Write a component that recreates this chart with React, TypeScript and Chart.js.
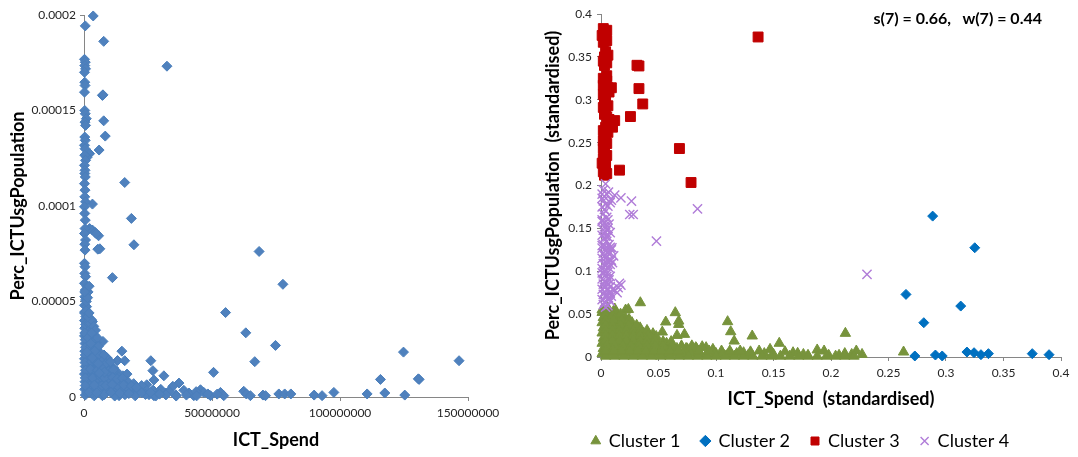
import React, { useEffect, useRef } from 'react';
import { Chart, registerables } from 'chart.js';

Chart.register(...registerables);

const FONT = 'Lato, "Open Sans", sans-serif';

// ---------- Left chart: raw values ----------
// [ICT_Spend in millions, Perc_ICTUsgPopulation in millionths]
const rawPoints: [number, number][] = [
  [3.6, 199.5], [0.5, 194.3], [7.7, 186.2], [32.4, 173.2], [7.2, 157.9], [7.4, 158.2],
  [7.7, 144.6], [8.3, 136.6], [5.9, 129.3], [2.2, 127.4], [1.2, 125.5], [15.9, 112.3],
  [3.3, 101.0], [18.5, 93.5], [19.5, 79.7], [5.7, 84.4], [6.2, 77.6], [5.4, 77.4],
  [3.3, 87.4], [2.2, 88.2], [4.3, 86.2], [4.8, 85.5], [11.1, 62.5], [68.4, 76.2],
  [77.7, 59.0], [55.3, 44.2], [63.2, 33.6], [74.8, 27.0], [66.7, 18.5], [124.8, 23.5],
  [146.5, 19.0], [115.8, 9.2], [130.9, 9.2], [130.6, 9.5], [50.6, 12.9], [31.2, 11.1],
  [26.1, 19.0], [26.9, 13.8], [27.3, 8.9], [14.8, 24.0], [13.1, 19.1], [15.9, 19.0],
  [15.2, 11.1], [16.8, 12.0], [7.4, 29.1], [3.3, 39.5], [3.0, 35.2], [4.9, 25.6],
  [5.6, 19.5], [37.1, 7.3], [24.5, 6.4],
  [45.5, 3.8], [46.8, 2.4], [49.4, 0.7], [53.3, 2.4], [54.6, 0.7], [62.4, 3.0],
  [63.4, 1.6], [65.0, 0.7], [69.9, 1.0], [70.9, 0.7], [76.1, 1.6], [78.4, 1.6],
  [80.8, 1.6], [89.9, 1.0], [93.0, 0.7], [97.6, 2.4], [110.6, 1.6], [117.5, 2.1],
  [125.3, 1.0], [34.7, 5.6], [42.9, 0.7], [41.0, 2.1], [31.9, 2.1], [29.3, 3.0],
  [21.5, 3.8], [17.6, 3.0], [12.4, 2.1], [25.4, 1.2], [35.8, 1.2], [33.2, 3.0],
  [19.5, 2.1], [13.7, 0.7], [7.2, 0.7], [27.3, 0.7], [39.0, 3.5], [48.4, 1.6],
  [52.0, 1.5], [43.8, 2.8],
  [0.2, 176.8], [0.5, 175.3], [0.3, 173.5], [0.6, 171.8], [0.2, 170.0], [0.3, 164.8],
  [0.4, 163.1], [0.2, 159.6], [0.3, 150.0], [0.5, 148.3], [0.9, 145.7], [0.4, 143.9],
  [0.6, 142.2], [0.3, 136.1], [0.5, 134.4], [0.2, 131.8], [0.4, 130.0], [0.3, 126.6],
  [0.6, 123.9], [0.2, 121.3], [0.4, 118.7], [0.3, 117.0], [0.5, 115.2], [0.2, 111.7],
  [0.4, 108.3], [0.3, 104.8], [0.6, 102.2], [0.2, 99.6], [0.3, 96.1], [0.5, 92.6],
  [0.4, 88.2], [0.2, 85.6], [0.6, 82.2], [0.3, 80.0], [0.4, 76.9], [0.2, 70.0],
  [0.4, 68.2], [0.3, 64.7], [0.6, 63.0], [0.2, 59.5], [1.2, 57.8], [0.5, 56.0],
  [0.8, 54.3], [0.3, 52.5], [0.6, 50.8], [0.2, 48.0], [1.0, 47.3], [0.4, 44.7],
  [0.7, 42.1], [1.6, 55.0], [2.0, 58.0], [0.9, 50.0], [1.4, 52.0], [0.3, 55.0], [0.2, 44.0],
  [0.2, 40], [1.1, 39], [2.0, 41], [0.3, 36], [1.3, 37], [2.4, 36],
  [0.2, 32], [1.4, 33], [2.7, 31.5], [4.0, 32.5], [0.4, 28], [1.8, 29], [3.2, 27.5], [4.6, 28.5],
  [0.3, 24], [1.9, 25], [3.5, 23.5], [5.0, 24.5], [6.4, 23],
  [0.2, 20], [2.1, 21], [3.9, 19.5], [5.7, 20.5], [7.4, 19.5], [9.0, 20.5],
  [0.5, 16], [2.4, 17], [4.3, 15.5], [6.2, 16.5], [8.1, 15.5], [10.0, 16.5], [11.6, 15.2],
  [0.2, 12], [2.3, 13], [4.5, 11.5], [6.7, 12.5], [8.9, 11.5], [11.0, 12.8], [12.9, 13.2], [13.5, 10.5],
  [0.4, 8], [2.8, 8.5], [5.2, 7.5], [7.6, 8.5], [10.0, 7.5], [12.4, 8.5], [14.8, 7.5], [17.2, 8], [19.4, 7],
  [0.3, 4], [3.0, 4.5], [6.0, 3.5], [9.0, 4.5], [12.0, 3.5], [15.0, 4.5], [18.0, 4], [21.0, 3.5],
  [24.0, 4.2], [27.0, 3.6], [30.0, 4.0],
  [0.5, 1], [4.0, 0.6], [8.0, 1.3], [12.0, 0.5], [16.0, 1.2], [20.0, 0.6], [24.0, 1.3], [28.0, 0.5],
  [32.0, 1.1], [36.0, 0.5], [40.0, 1.0], [44.0, 0.6],
  [1.0, 2.5], [2.0, 6], [1.5, 10], [1.0, 14], [1.2, 18], [1.0, 22], [1.3, 26], [1.0, 30],
  [0.8, 34], [0.8, 45], [3.5, 14], [5.5, 10], [7.0, 6], [3.0, 2], [9.5, 9.8], [10.5, 5.5],
  [16.5, 5.5], [22.5, 6], [13.0, 6], [9.0, 14], [7.0, 18], [5.0, 22], [2.8, 30],
  [0.6, 38], [1.7, 38.5], [1.9, 34.5], [3.3, 35], [0.5, 30], [2.2, 30.5], [3.7, 30], [5.2, 31],
  [0.6, 26], [2.6, 26.5], [4.1, 26], [5.6, 26.5], [0.5, 22], [2.8, 22.5], [4.5, 22], [6.0, 21.5],
  [7.8, 22], [0.4, 18], [2.9, 18.5], [4.8, 18], [6.8, 18.5], [8.6, 17.5], [10.3, 18.5],
  [0.6, 14], [2.5, 14.5], [5.3, 14], [7.4, 14.5], [9.6, 13.5], [11.5, 14.2],
  [0.5, 10], [3.4, 10], [6.5, 10.5], [8.0, 10], [11.2, 10.2], [13.0, 9.5], [15.0, 9.8],
  [0.5, 6], [4.0, 6.2], [8.5, 6], [11.0, 6.5], [15.5, 6.3], [18.5, 5.8], [20.5, 5.0],
  [2.0, 2.5], [5.0, 2.2], [10.5, 2.5], [14.0, 2.0], [17.5, 1.8], [22.5, 2.2], [26.0, 2.4], [29.5, 1.5],
  [2.4, 38.5], [2.9, 40.5], [1.5, 42], [3.8, 37], [2.0, 44], [4.5, 35], [0.3, 33.5], [1.6, 31],
  [3.0, 33.5], [2.6, 28], [4.2, 24], [1.2, 23.5], [3.2, 20.5], [5.6, 17.5], [8.0, 13], [6.0, 12.5],
];

// ---------- Right chart: standardised values, [ICT_Spend, Perc_ICTUsgPopulation] ----------
const cluster1: [number, number][] = [
  [0.2631, 0.0058], [0.2125, 0.0276], [0.1315, 0.0245], [0.1101, 0.0412], [0.1128, 0.0295],
  [0.1158, 0.0186], [0.0646, 0.0517], [0.0563, 0.0408], [0.0676, 0.0419], [0.0676, 0.038],
  [0.0661, 0.0252], [0.0726, 0.0264], [0.0533, 0.0291], [0.0342, 0.0633], [0.0214, 0.0548],
  [0.0238, 0.0555], [0.0244, 0.0439], [0.0185, 0.0439], [0.019, 0.0353], [0.0408, 0.0283],
  [0.0452, 0.0272],
  [0.155, 0.016], [0.147, 0.0089], [0.1375, 0.007], [0.124, 0.005], [0.167, 0.005], [0.171, 0.0043],
  [0.180, 0.002], [0.188, 0.0082], [0.194, 0.007], [0.198, 0.002], [0.207, 0.002], [0.218, 0.003],
  [0.222, 0.007], [0.227, 0.003], [0.0914, 0.0109], [0.0973, 0.0089], [0.0824, 0.0109],
  [0.1048, 0.007], [0.118, 0.004], [0.128, 0.002], [0.142, 0.004], [0.160, 0.006], [0.150, 0.003],
  [0.176, 0.003], [0.212, 0.004], [0.086, 0.004], [0.078, 0.007], [0.072, 0.004], [0.064, 0.008],
  [0.058, 0.004], [0.052, 0.009], [0.046, 0.005], [0.040, 0.010], [0.034, 0.006], [0.028, 0.012],
  [0.075, 0.0095], [0.110, 0.0025], [0.100, 0.004],
  [0.001, 0.052], [0.007, 0.052], [0.013, 0.052], [0.001, 0.055], [0.006, 0.057], [0.012, 0.056],
  [0.002, 0.046], [0.008, 0.046], [0.015, 0.046], [0.021, 0.046],
  [0.001, 0.040], [0.007, 0.040], [0.013, 0.040], [0.020, 0.040], [0.027, 0.040],
  [0.002, 0.034], [0.008, 0.034], [0.014, 0.034], [0.021, 0.034], [0.028, 0.034], [0.034, 0.034],
  [0.001, 0.028], [0.007, 0.028], [0.013, 0.028], [0.019, 0.028], [0.025, 0.028], [0.031, 0.028], [0.037, 0.028],
  [0.002, 0.022], [0.008, 0.022], [0.014, 0.022], [0.020, 0.022], [0.026, 0.022], [0.032, 0.022],
  [0.038, 0.022], [0.044, 0.022],
  [0.001, 0.016], [0.007, 0.016], [0.013, 0.016], [0.019, 0.016], [0.025, 0.016], [0.031, 0.016],
  [0.037, 0.016], [0.043, 0.016], [0.050, 0.016], [0.057, 0.016],
  [0.002, 0.010], [0.009, 0.010], [0.016, 0.010], [0.023, 0.010], [0.030, 0.010], [0.037, 0.010],
  [0.044, 0.010], [0.051, 0.010], [0.058, 0.010], [0.066, 0.010], [0.074, 0.010], [0.083, 0.010],
  [0.001, 0.004], [0.008, 0.004], [0.015, 0.004], [0.022, 0.004], [0.029, 0.004], [0.036, 0.004],
  [0.043, 0.004], [0.050, 0.004], [0.057, 0.004], [0.064, 0.004], [0.071, 0.004], [0.078, 0.004],
  [0.085, 0.004], [0.092, 0.004], [0.099, 0.004], [0.106, 0.004], [0.113, 0.004],
  [0.004, 0.001], [0.012, 0.001], [0.020, 0.001], [0.028, 0.001], [0.036, 0.001], [0.044, 0.001],
  [0.052, 0.001], [0.060, 0.001], [0.068, 0.001], [0.076, 0.001], [0.084, 0.001], [0.092, 0.001],
  [0.100, 0.001], [0.108, 0.001], [0.116, 0.001], [0.124, 0.001], [0.132, 0.001], [0.140, 0.001],
  [0.148, 0.001], [0.156, 0.001], [0.164, 0.001], [0.172, 0.001], [0.180, 0.001], [0.188, 0.001],
  [0.196, 0.001], [0.204, 0.001], [0.212, 0.001], [0.220, 0.001],
  [0.004, 0.049], [0.010, 0.049], [0.017, 0.050],
  [0.004, 0.043], [0.011, 0.043], [0.018, 0.043], [0.024, 0.043],
  [0.004, 0.037], [0.010, 0.037], [0.017, 0.037], [0.024, 0.037], [0.031, 0.037],
  [0.004, 0.031], [0.010, 0.031], [0.016, 0.031], [0.022, 0.031], [0.028, 0.031], [0.034, 0.031], [0.040, 0.031],
  [0.004, 0.025], [0.010, 0.025], [0.016, 0.025], [0.022, 0.025], [0.028, 0.025], [0.034, 0.025],
  [0.041, 0.025], [0.048, 0.024],
  [0.004, 0.019], [0.010, 0.019], [0.016, 0.019], [0.022, 0.019], [0.028, 0.019], [0.034, 0.019],
  [0.040, 0.019], [0.047, 0.019], [0.054, 0.018], [0.061, 0.018],
  [0.005, 0.013], [0.012, 0.013], [0.019, 0.013], [0.026, 0.013], [0.033, 0.013], [0.040, 0.013],
  [0.047, 0.013], [0.054, 0.013], [0.062, 0.013], [0.070, 0.013], [0.079, 0.013], [0.088, 0.012],
  [0.004, 0.007], [0.011, 0.007], [0.018, 0.007], [0.025, 0.007], [0.032, 0.007], [0.039, 0.007],
  [0.046, 0.007], [0.053, 0.007], [0.060, 0.007], [0.067, 0.007], [0.085, 0.007], [0.094, 0.007],
  [0.112, 0.007], [0.121, 0.007], [0.130, 0.006],
];

const cluster2: [number, number][] = [
  [0.2884, 0.1643], [0.3250, 0.1274], [0.2652, 0.0730], [0.3128, 0.0594], [0.2807, 0.0400],
  [0.2729, 0.0012], [0.2908, 0.0023], [0.2967, 0.0012], [0.3182, 0.0058], [0.3244, 0.0050],
  [0.3304, 0.0027], [0.3369, 0.0039], [0.3750, 0.0039], [0.3896, 0.0027],
];

const cluster3: [number, number][] = [
  [0.002, 0.383], [0.003, 0.379], [0.001, 0.375], [0.003, 0.371], [0.002, 0.367], [0.004, 0.356],
  [0.003, 0.350], [0.002, 0.345], [0.003, 0.340], [0.002, 0.325], [0.004, 0.321], [0.002, 0.317],
  [0.006, 0.314], [0.003, 0.311], [0.007, 0.309], [0.002, 0.306], [0.003, 0.295], [0.002, 0.291],
  [0.004, 0.287], [0.003, 0.283], [0.006, 0.275], [0.008, 0.271], [0.004, 0.268], [0.002, 0.264],
  [0.003, 0.260], [0.004, 0.256], [0.002, 0.252], [0.003, 0.248], [0.002, 0.243], [0.003, 0.237],
  [0.002, 0.231], [0.001, 0.226], [0.003, 0.221], [0.002, 0.216], [0.003, 0.212],
  [0.005, 0.381], [0.004, 0.376], [0.005, 0.369], [0.006, 0.352], [0.005, 0.343], [0.005, 0.322],
  [0.005, 0.328], [0.004, 0.300], [0.006, 0.293], [0.005, 0.280], [0.006, 0.262], [0.005, 0.249],
  [0.005, 0.235], [0.004, 0.224], [0.005, 0.214], [0.009, 0.314], [0.007, 0.277], [0.010, 0.268],
  [0.1366, 0.3732], [0.0313, 0.3402], [0.0330, 0.3394], [0.0330, 0.3130], [0.0363, 0.2951],
  [0.0256, 0.2804], [0.0682, 0.2431], [0.0161, 0.2179], [0.0783, 0.2035], [0.0119, 0.2757],
  [0.0080, 0.2711],
];

const cluster4: [number, number][] = [
  [0.2313, 0.0963], [0.0839, 0.1728], [0.0482, 0.1351], [0.0265, 0.1817], [0.0250, 0.1662],
  [0.0280, 0.1662], [0.0173, 0.1856], [0.0119, 0.1887], [0.0065, 0.1922], [0.0173, 0.0839],
  [0.0149, 0.0808], [0.014, 0.075], [0.0095, 0.1274], [0.011, 0.118], [0.010, 0.110],
  [0.008, 0.075], [0.0065, 0.069], [0.004, 0.202], [0.009, 0.183],
  [0.002, 0.195], [0.001, 0.190], [0.003, 0.187], [0.002, 0.182], [0.004, 0.178], [0.001, 0.175],
  [0.003, 0.172], [0.002, 0.167], [0.005, 0.163], [0.001, 0.158], [0.003, 0.152], [0.002, 0.148],
  [0.004, 0.145], [0.001, 0.142], [0.003, 0.138], [0.005, 0.135], [0.002, 0.131], [0.001, 0.127],
  [0.004, 0.124], [0.002, 0.121], [0.003, 0.118], [0.001, 0.115], [0.006, 0.112], [0.002, 0.109],
  [0.004, 0.106], [0.001, 0.103], [0.003, 0.100], [0.002, 0.097], [0.005, 0.094], [0.001, 0.091],
  [0.003, 0.088], [0.002, 0.085], [0.004, 0.082], [0.001, 0.079], [0.003, 0.076], [0.002, 0.073],
  [0.005, 0.070], [0.001, 0.067], [0.003, 0.064], [0.002, 0.061], [0.004, 0.058], [0.006, 0.099],
  [0.007, 0.120], [0.006, 0.140], [0.007, 0.085],
  [0.005, 0.190], [0.006, 0.176], [0.004, 0.170], [0.006, 0.160], [0.003, 0.157], [0.006, 0.150],
  [0.004, 0.141], [0.007, 0.131], [0.005, 0.128], [0.006, 0.123], [0.004, 0.115], [0.005, 0.109],
  [0.007, 0.104], [0.004, 0.096], [0.006, 0.091], [0.005, 0.086], [0.003, 0.081], [0.006, 0.078],
  [0.004, 0.072], [0.007, 0.067], [0.004, 0.063], [0.006, 0.060], [0.008, 0.128], [0.009, 0.113],
  [0.008, 0.094], [0.010, 0.079], [0.009, 0.071], [0.012, 0.078], [0.016, 0.086], [0.001, 0.185],
  [0.001, 0.160], [0.001, 0.130], [0.001, 0.098],
  [0.008, 0.180], [0.007, 0.155], [0.008, 0.145], [0.009, 0.125], [0.008, 0.108], [0.007, 0.090],
  [0.008, 0.082], [0.006, 0.072], [0.008, 0.065], [0.005, 0.148], [0.005, 0.117], [0.003, 0.108],
];

const clusterNames = ['Cluster 1', 'Cluster 2', 'Cluster 3', 'Cluster 4'];

// ---------- Tick labels ----------
const leftXTicks = [0, 50000000, 100000000, 150000000];
const leftYTicks = [0, 0.00005, 0.0001, 0.00015, 0.0002];
const stdTicks = [0, 0.05, 0.1, 0.15, 0.2, 0.25, 0.3, 0.35, 0.4];

const annotationText = 's(7) = 0.66,   w(7) = 0.44';

const AXIS_GRAY = '#868686';
const TICK_COLOR = '#262626';

function axis(opts: {
  ticks: number[];
  min: number;
  max: number;
  title: string;
  size: number;
  horizontal: boolean;
  tickPad: number;
  titlePad: number;
}) {
  return {
    type: 'linear',
    min: opts.min,
    max: opts.max,
    afterBuildTicks: (scale: any) => {
      scale.ticks = opts.ticks.map((v) => ({ value: v }));
    },
    afterFit: (scale: any) => {
      if (opts.horizontal) scale.height = opts.size;
      else scale.width = opts.size;
    },
    grid: {
      display: true,
      drawOnChartArea: false,
      drawTicks: true,
      tickLength: 4,
      color: AXIS_GRAY,
      lineWidth: 1,
    },
    border: { display: true, color: AXIS_GRAY, width: 1 },
    ticks: {
      autoSkip: false,
      maxRotation: 0,
      minRotation: 0,
      padding: opts.tickPad,
      color: TICK_COLOR,
      font: { family: FONT, size: 12 },
      callback: (v: any) => String(v),
    },
    title: {
      display: true,
      text: opts.title,
      color: '#000',
      font: { family: FONT, size: 18, weight: 'bold' },
      padding: opts.horizontal ? { top: 0, bottom: opts.titlePad } : { top: opts.titlePad, bottom: 0 },
    },
  };
}

function toXY(points: [number, number][], sx = 1, sy = 1) {
  return points.map(([x, y]) => ({ x: x * sx, y: y * sy }));
}

export default function App() {
  const leftRef = useRef<HTMLCanvasElement>(null);
  const rightRef = useRef<HTMLCanvasElement>(null);

  useEffect(() => {
    const left = new Chart(leftRef.current as HTMLCanvasElement, {
      type: 'scatter',
      data: {
        datasets: [
          {
            label: 'Perc_ICTUsgPopulation',
            data: toXY(rawPoints, 1e6, 1e-6),
            pointStyle: 'rectRot',
            pointRadius: 5,
            pointHoverRadius: 5,
            backgroundColor: '#4F81BD',
            borderColor: '#4A7EBB',
            borderWidth: 1,
            clip: false,
          } as any,
        ],
      },
      options: {
        animation: false,
        responsive: false,
        maintainAspectRatio: false,
        layout: { padding: { top: 15, right: 72, bottom: 0, left: 0 } },
        plugins: { legend: { display: false }, tooltip: { enabled: false } },
        scales: {
          x: axis({ ticks: leftXTicks, min: 0, max: 150000000, title: 'ICT_Spend', size: 60, horizontal: true, tickPad: 5, titlePad: 6 }) as any,
          y: axis({ ticks: leftYTicks, min: 0, max: 0.0002, title: 'Perc_ICTUsgPopulation', size: 84, horizontal: false, tickPad: 4, titlePad: 7 }) as any,
        },
      },
    });

    const styles = [
      { style: 'triangle', radius: 6, bg: '#77933C', border: '#77933C', bw: 1 },
      { style: 'rectRot', radius: 5, bg: '#0070C0', border: '#0070C0', bw: 1 },
      { style: 'rect', radius: 7, bg: '#C00000', border: '#C00000', bw: 1 },
      { style: 'crossRot', radius: 6.5, bg: '#B07CD8', border: '#B07CD8', bw: 1.4 },
    ];
    const clusters = [cluster1, cluster2, cluster3, cluster4];

    const right = new Chart(rightRef.current as HTMLCanvasElement, {
      type: 'scatter',
      data: {
        datasets: clusters.map((c, i) => ({
          label: clusterNames[i],
          data: toXY(c),
          pointStyle: styles[i].style,
          pointRadius: styles[i].radius,
          pointHoverRadius: styles[i].radius,
          backgroundColor: styles[i].bg,
          borderColor: styles[i].border,
          borderWidth: styles[i].bw,
          clip: false,
          order: 4 - i,
        })) as any,
      },
      options: {
        animation: false,
        responsive: false,
        maintainAspectRatio: false,
        layout: { padding: { top: 14, right: 17, bottom: 10, left: 0 } },
        plugins: {
          tooltip: { enabled: false },
          legend: {
            display: true,
            position: 'bottom',
            labels: {
              usePointStyle: true,
              boxWidth: 8,
              boxHeight: 8,
              padding: 21,
              color: '#000',
              font: { family: FONT, size: 18 },
              sort: (a: any, b: any) => a.datasetIndex - b.datasetIndex,
            },
          },
        },
        scales: {
          x: axis({ ticks: stdTicks, min: 0, max: 0.4, title: 'ICT_Spend  (standardised)', size: 54, horizontal: true, tickPad: 5, titlePad: 1 }) as any,
          y: axis({ ticks: stdTicks, min: 0, max: 0.4, title: 'Perc_ICTUsgPopulation  (standardised)', size: 61, horizontal: false, tickPad: 5, titlePad: 2 }) as any,
        },
      },
    });

    return () => {
      left.destroy();
      right.destroy();
    };
  }, []);

  return (
    <div
      style={{
        position: 'fixed',
        left: 0,
        top: 0,
        width: 1078,
        height: 457,
        overflow: 'hidden',
        background: '#fff',
      }}
    >
      <canvas ref={leftRef} width={540} height={457} style={{ position: 'absolute', left: 0, top: 0 }} />
      <canvas ref={rightRef} width={538} height={470} style={{ position: 'absolute', left: 540, top: 0 }} />
      <div
        style={{
          position: 'absolute',
          left: 836,
          top: 8,
          width: 206,
          textAlign: 'right',
          whiteSpace: 'pre',
          fontFamily: FONT,
          fontWeight: 'bold',
          fontSize: 16,
          lineHeight: '20px',
          color: '#000',
        }}
      >
        {annotationText}
      </div>
    </div>
  );
}
